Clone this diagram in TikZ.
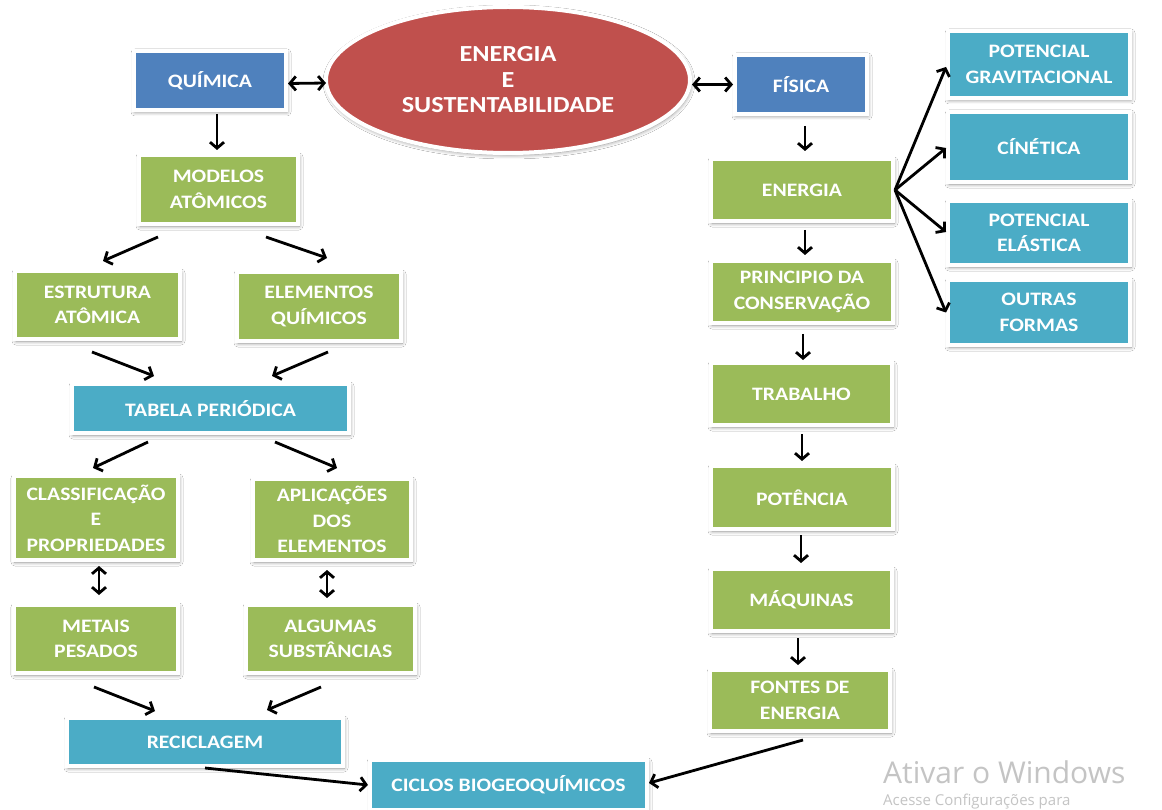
\documentclass[tikz,border=0pt]{standalone}
\usepackage{fontspec}
\setmainfont{Carlito}
\newfontfamily\boxfont[FakeStretch=1.14]{Carlito Bold}
\newfontfamily\wmfont{Open Sans}
\usetikzlibrary{shapes.geometric,shadows.blur,arrows.meta,calc}
\definecolor{boxgreen}{HTML}{9BBB59}
\definecolor{boxblue}{HTML}{4F81BD}
\definecolor{boxteal}{HTML}{4BACC6}
\definecolor{boxred}{HTML}{C0504D}
\definecolor{wmgray}{HTML}{C4C4C4}
\begin{document}
\begin{tikzpicture}[x=1pt,y=-1pt,
  softshadow/.style={blur shadow={shadow xshift=1pt, shadow yshift=-2pt,
      shadow blur radius=4pt, shadow blur steps=8, shadow opacity=45}},
  card/.style 2 args={rectangle, draw=white, line width=4pt,
    minimum width=#1+4, minimum height=#2+4, inner sep=0pt,
    softshadow, text=white, align=center,
    font=\boxfont\fontsize{19}{25.5}\selectfont},
  green/.style={fill=boxgreen},
  blue/.style={fill=boxblue},
  teal/.style={fill=boxteal},
  tip/.tip={Straight Barb[length=6pt,width=14pt,line width=2.8pt]},
  arr/.style={draw=black, line width=2.8pt, -tip},
  darr/.style={draw=black, line width=2.8pt, tip-tip}
]
\useasboundingbox (0,0) rectangle (1162,810);
\fill[white] (0,0) rectangle (1162,810);

% central title
\node[ellipse, fill=boxred, draw=white, line width=4pt,
  minimum width=364, minimum height=146, inner sep=0pt, softshadow,
  text=white, align=center,
  font=\boxfont\fontsize{23}{25.5}\selectfont] (tema) at (508,80)
  {ENERGIA\\E\\SUSTENTABILIDADE};

% chemistry branch
\node[card={148}{55}, blue] (quimica) at (210,80.5) {QUÍMICA};
\node[card={155}{65}, green] (modelos) at (218.5,189.5) {MODELOS\\ATÔMICOS};
\node[card={161}{64}, green] (estrutura) at (97.5,305) {ESTRUTURA\\ATÔMICA};
\node[card={160}{65}, green] (elementos) at (319,306.5) {ELEMENTOS\\QUÍMICOS};
\node[card={273}{45}, teal] (tabela) at (210.5,408.5) {TABELA PERIÓDICA};
\node[card={160}{80}, green] (classif) at (96,518) {CLASSIFICAÇÃO\\E\\PROPRIEDADES};
\node[card={154}{77}, green] (aplic) at (332,519.5) {APLICAÇÕES\\DOS\\ELEMENTOS};
\node[card={160}{64}, green] (metais) at (96,639) {METAIS\\PESADOS};
\node[card={165}{64}, green] (algumas) at (330.5,639) {ALGUMAS\\SUBSTÂNCIAS};
\node[card={272}{44}, teal] (recic) at (205,742) {RECICLAGEM};
\node[card={273}{46}, teal] (ciclos) at (508.5,785) {CICLOS BIOGEOQUÍMICOS};

% physics branch
\node[card={128}{55}, blue] (fisica) at (801,84.5) {FÍSICA};
\node[card={178}{58}, green] (energia) at (802,190) {ENERGIA};
\node[card={178}{58}, green] (principio) at (802,292) {PRINCIPIO DA\\CONSERVAÇÃO};
\node[card={177}{58}, green] (trabalho) at (801.5,394) {TRABALHO};
\node[card={178}{59}, green] (potencia) at (802,497.5) {POTÊNCIA};
\node[card={177}{58}, green] (maquinas) at (801.5,600) {MÁQUINAS};
\node[card={176}{57}, green] (fontes) at (800,700.5) {FONTES DE\\ENERGIA};

% forms of energy
\node[card={178}{63}, teal] (grav) at (1039,64.5) {POTENCIAL\\GRAVITACIONAL};
\node[card={178}{66}, teal] (cinetica) at (1039,147) {CÍNÉTICA};
\node[card={178}{60}, teal] (elastica) at (1039,233) {POTENCIAL\\ELÁSTICA};
\node[card={178}{61}, teal] (outras) at (1039,312.5) {OUTRAS\\FORMAS};

% connectors: chemistry
\draw[darr] ($(quimica.east)+(0,3)$) -- ($(tema.west)+(2,3)$);
\draw[darr] (fisica.west -| tema.east) -- (fisica.west);
\draw[arr] ($(quimica.south)+(7,2)$) -- ($(modelos.north)+(-1.5,-3)$);
\draw[arr] ($(modelos.south)+(-60.5,11)$) -- ($(estrutura.north)+(5.5,-8)$);
\draw[arr] ($(modelos.south)+(47.5,11)$) -- ($(elementos.north)+(8,-12)$);
\draw[arr] ($(estrutura.south)+(-5.5,11)$) -- ($(tabela.north)+(-56.5,-6)$);
\draw[arr] ($(elementos.south)+(9,9)$) -- ($(tabela.north)+(61.5,-6)$);
\draw[arr] ($(tabela.south)+(-62.5,7)$) -- ($(classif.north)+(-3,-6)$);
\draw[arr] ($(tabela.south)+(64.5,7)$) -- ($(aplic.north)+(5,-9)$);
\draw[darr] ($(classif.south)+(3,4)$) -- ($(metais.north)+(3,-8)$);
\draw[darr] ($(aplic.south)+(-5,8)$) -- ($(algumas.north)+(-3.5,-5)$);
\draw[arr] ($(metais.south)+(-2,12)$) -- ($(recic.north)+(-50,-5)$);
\draw[arr] ($(algumas.south)+(-9.5,12)$) -- ($(recic.north)+(62,-6)$);
\draw[arr] (recic.south) -- (ciclos.west);

% connectors: physics
\draw[arr] ($(fisica.south)+(4,10)$) -- ($(energia.north)+(3,-6)$);
\draw[arr] ($(energia.south)+(3,7)$) -- ($(principio.north)+(3,-4)$);
\draw[arr] ($(principio.south)+(1,9)$) -- ($(trabalho.north)+(1.5,-1)$);
\draw[arr] ($(trabalho.south)+(0.5,7)$) -- ($(potencia.north)+(0,-3)$);
\draw[arr] ($(potencia.south)+(-1,4)$) -- ($(maquinas.north)+(-0.5,-4)$);
\draw[arr] ($(maquinas.south)+(-3.5,5)$) -- ($(fontes.north)+(-2,-3)$);
\draw[arr] ($(fontes.south)+(3,7)$) -- ($(ciclos.east)+(0,-2)$);
\draw[arr] (energia.east) -- ($(grav.west)+(0,2.5)$);
\draw[arr] (energia.east) -- ($(cinetica.west)+(0,1)$);
\draw[arr] (energia.east) -- ($(elastica.west)+(0,-1)$);
\draw[arr] (energia.east) -- (outras.west);

% system notice in the corner
\node[anchor=base west, inner sep=0pt, text=wmgray,
  font=\wmfont\fontsize{30}{36}\selectfont] (aviso) at (883,783) {Ativar o Windows};
\node[anchor=base west, inner sep=0pt, text=wmgray,
  font=\wmfont\fontsize{15}{18}\selectfont] (aviso2) at (883,805)
  {Acesse Configurações para};
\end{tikzpicture}
\end{document}
